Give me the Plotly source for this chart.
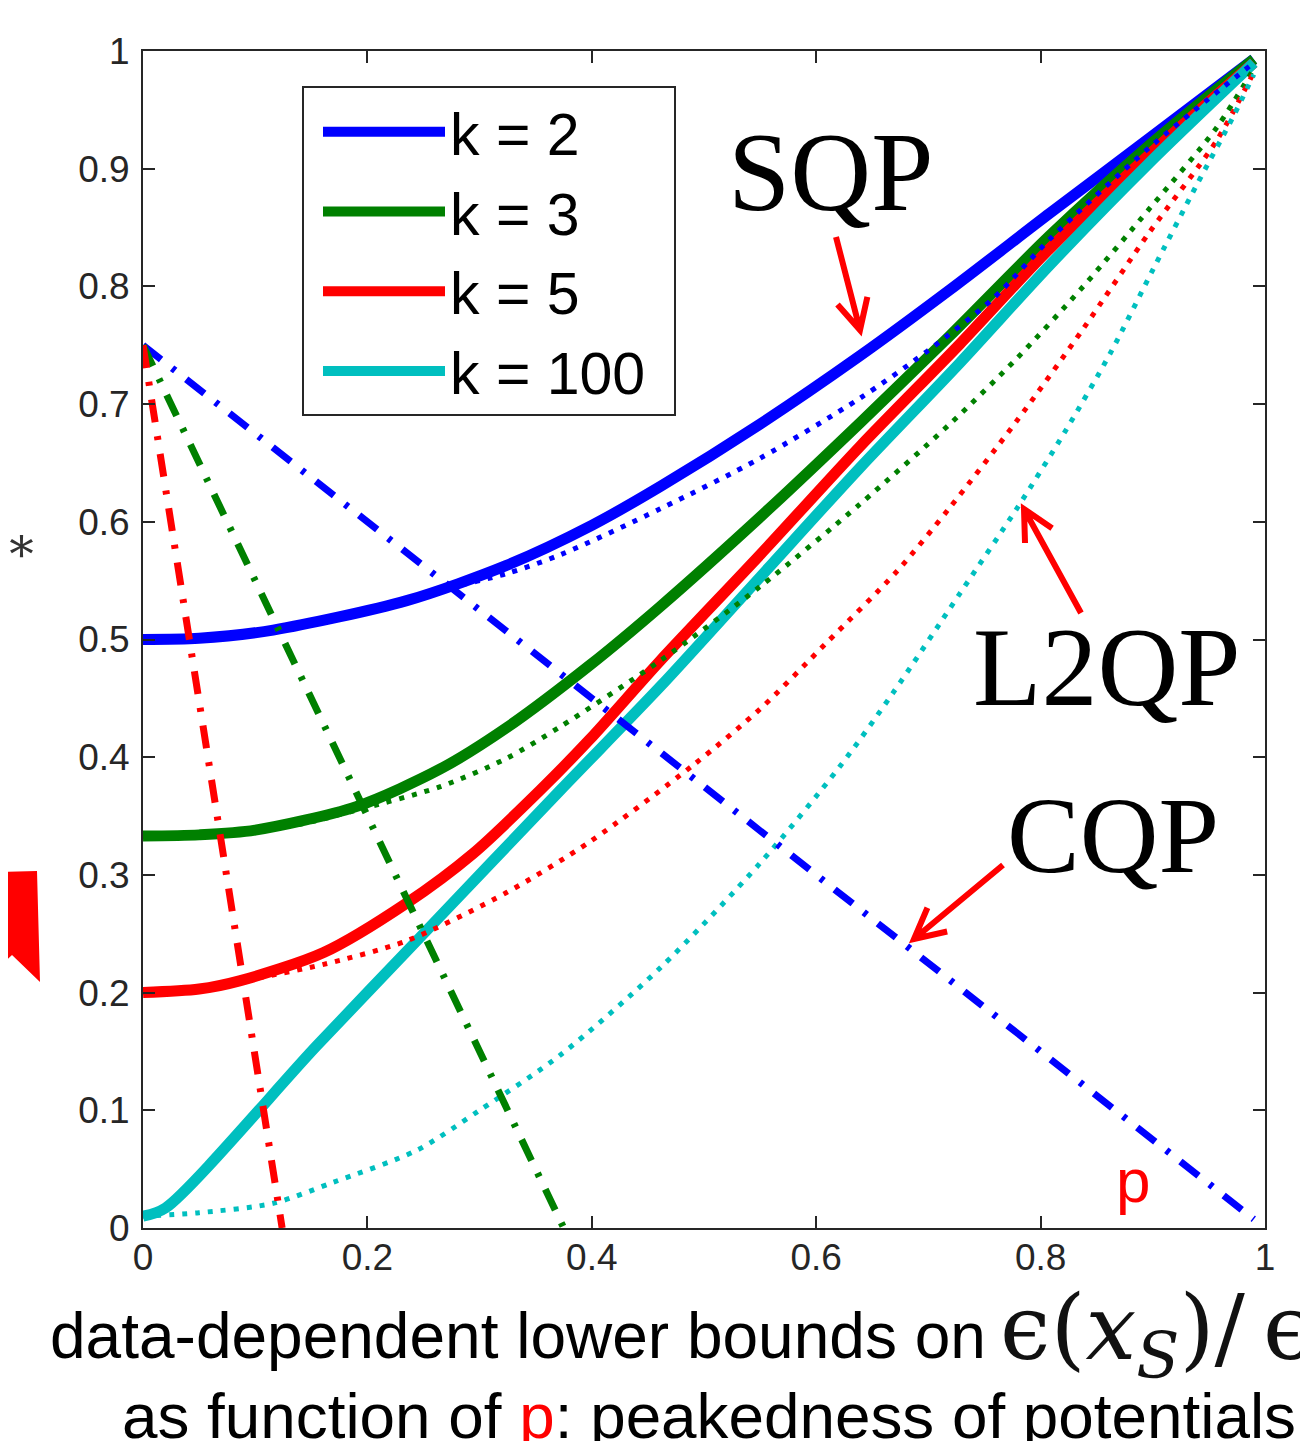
import math
import plotly.graph_objects as go

# ---------------- data ----------------
k_labels = ["k = 2", "k = 3", "k = 5", "k = 100"]
colors = ["#0000FF", "#008000", "#FF0000", "#00BFBF"]

# SQP (solid)
sqp_k2_x = [0, 0.05, 0.116, 0.235, 0.324, 0.4, 0.461, 0.55, 0.639, 0.719, 0.808, 0.897, 0.99]
sqp_k2_y = [0.5, 0.501, 0.508, 0.533, 0.563, 0.597, 0.63, 0.683, 0.741, 0.797, 0.862, 0.926, 0.993]
sqp_k3_x = [0, 0.05, 0.1, 0.19, 0.265, 0.324, 0.398, 0.461, 0.55, 0.639, 0.719, 0.808, 0.897, 0.99]
sqp_k3_y = [0.333, 0.334, 0.338, 0.358, 0.39, 0.425, 0.478, 0.528, 0.604, 0.684, 0.758, 0.843, 0.92, 0.993]
sqp_k5_x = [0, 0.05, 0.086, 0.161, 0.235, 0.294, 0.354, 0.398, 0.461, 0.55, 0.639, 0.728, 0.808, 0.897, 0.99]
sqp_k5_y = [0.2, 0.203, 0.21, 0.234, 0.276, 0.318, 0.372, 0.415, 0.482, 0.572, 0.664, 0.751, 0.832, 0.912, 0.99]
sqp_k100_x = [0, 0.02, 0.155, 0.25, 0.372, 0.461, 0.55, 0.639, 0.728, 0.808, 0.897, 0.99]
sqp_k100_y = [0.01, 0.017, 0.155, 0.25, 0.372, 0.46, 0.553, 0.646, 0.735, 0.818, 0.905, 0.99]

# L2QP (dotted)
l2qp_k2_x = [0, 0.116, 0.235, 0.27, 0.324, 0.372, 0.461, 0.55, 0.639, 0.699, 0.758, 0.808, 0.897, 0.99]
l2qp_k2_y = [0.5, 0.508, 0.533, 0.543, 0.556, 0.572, 0.611, 0.654, 0.705, 0.745, 0.79, 0.84, 0.918, 0.99]
l2qp_k3_x = [0, 0.1, 0.14, 0.19, 0.265, 0.324, 0.372, 0.461, 0.55, 0.639, 0.719, 0.779, 0.838, 0.897, 0.957, 0.99]
l2qp_k3_y = [0.333, 0.338, 0.343, 0.355, 0.375, 0.399, 0.426, 0.482, 0.545, 0.615, 0.683, 0.739, 0.8, 0.866, 0.935, 0.985]
l2qp_k5_x = [0, 0.05, 0.1, 0.161, 0.235, 0.324, 0.398, 0.49, 0.55, 0.609, 0.672, 0.719, 0.779, 0.838, 0.897, 0.957, 0.99]
l2qp_k5_y = [0.2, 0.203, 0.212, 0.224, 0.244, 0.285, 0.328, 0.393, 0.441, 0.497, 0.558, 0.612, 0.686, 0.764, 0.846, 0.924, 0.982]
l2qp_k100_x = [0, 0.05, 0.116, 0.17, 0.244, 0.3, 0.372, 0.461, 0.55, 0.621, 0.668, 0.728, 0.78, 0.822, 0.862, 0.9, 0.939, 0.971, 0.99]
l2qp_k100_y = [0.01, 0.013, 0.021, 0.039, 0.066, 0.1, 0.147, 0.221, 0.31, 0.392, 0.454, 0.539, 0.613, 0.677, 0.743, 0.814, 0.886, 0.943, 0.98]

# CQP (dash-dot)
cqp_k2_x = [0, 0.99]
cqp_k2_y = [0.75, 0.0075]
cqp_k3_x = [0, 0.375]
cqp_k3_y = [0.75, 0.0]
cqp_k5_x = [0, 0.124]
cqp_k5_y = [0.75, 0.0]

tick_vals_x = [0, 0.2, 0.4, 0.6, 0.8, 1]
tick_text_x = ["0", "0.2", "0.4", "0.6", "0.8", "1"]
tick_vals_y = [0, 0.1, 0.2, 0.3, 0.4, 0.5, 0.6, 0.7, 0.8, 0.9, 1]
tick_text_y = ["0", "0.1", "0.2", "0.3", "0.4", "0.5", "0.6", "0.7", "0.8", "0.9", "1"]

# ---------------- figure ----------------
# page has an 8px body margin; plot area spans page px x 143..1265, y 51..1228
W, H = 1300, 1433
L, R, T, B = 135, 43, 43, 213
PX0, PX1, PY0, PY1 = 143, 1265, 51, 1228


def fx(px):
    return (px - PX0) / (PX1 - PX0)


def fy(py):
    return (PY1 - py) / (PY1 - PY0)


fig = go.Figure()

sqp = [(sqp_k2_x, sqp_k2_y), (sqp_k3_x, sqp_k3_y), (sqp_k5_x, sqp_k5_y), (sqp_k100_x, sqp_k100_y)]
l2qp = [(l2qp_k2_x, l2qp_k2_y), (l2qp_k3_x, l2qp_k3_y), (l2qp_k5_x, l2qp_k5_y), (l2qp_k100_x, l2qp_k100_y)]
cqp = [(cqp_k2_x, cqp_k2_y), (cqp_k3_x, cqp_k3_y), (cqp_k5_x, cqp_k5_y)]

for (xs, ys), c, name in zip(sqp, colors, k_labels):
    fig.add_trace(go.Scatter(x=xs, y=ys, mode="lines", name=name,
                             line=dict(color=c, width=11, shape="spline", smoothing=0.8)))
for (xs, ys), c in zip(l2qp, colors):
    fig.add_trace(go.Scatter(x=xs, y=ys, mode="lines", showlegend=False,
                             line=dict(color=c, width=5, dash="5px,8px", shape="spline", smoothing=0.8)))
for (xs, ys), c in zip(cqp, colors):
    fig.add_trace(go.Scatter(x=xs, y=ys, mode="lines", showlegend=False,
                             line=dict(color=c, width=7, dash="23px,14px,4px,14px")))

axis_color = "#262626"
tick_font = dict(family="Liberation Sans, Arial", size=37, color=axis_color)
fig.update_xaxes(range=[0, 1], tickvals=tick_vals_x, ticktext=tick_text_x, ticks="inside",
                 ticklen=12, tickwidth=2, tickcolor=axis_color, showline=True, linecolor=axis_color,
                 linewidth=2, mirror="allticks", showgrid=False, zeroline=False, tickfont=tick_font,
                 ticklabelstandoff=-4)
fig.update_yaxes(range=[0, 1], tickvals=tick_vals_y, ticktext=tick_text_y, ticks="inside",
                 ticklen=12, tickwidth=2, tickcolor=axis_color, showline=True, linecolor=axis_color,
                 linewidth=2, mirror="allticks", showgrid=False, zeroline=False, tickfont=tick_font,
                 ticklabelstandoff=4)

serif = "Liberation Serif, Times New Roman, serif"
sans = "Liberation Sans, Arial, sans-serif"
math_font = "DejaVu Serif, Liberation Serif, serif"

annotations = [
    dict(text="SQP", x=fx(830), y=fy(172), font=dict(family=serif, size=112, color="black")),
    dict(text="L2QP", x=fx(1107), y=fy(667), font=dict(family=serif, size=112, color="black")),
    dict(text="CQP", x=fx(1113), y=fy(835), font=dict(family=serif, size=109, color="black")),
    dict(text="p", x=fx(1133), y=fy(1180), font=dict(family=sans, size=62, color="#FF0000")),
    dict(text="data-dependent lower bounds on", x=fx(48), y=fy(1336), xanchor="left",
         font=dict(family=sans, size=64, color="black")),
    dict(text="ϵ(<i>x</i><sub><i>S</i></sub>)/\u2009ϵ", x=fx(998), y=fy(1334), xanchor="left",
         font=dict(family=math_font, size=90, color="#111111")),
    dict(text="as function of <span style='color:#FF0000'>p</span>: peakedness of potentials",
         x=fx(120), y=fy(1416), xanchor="left", font=dict(family=sans, size=63.8, color="black")),
    dict(text="ϵ<sup>*</sup>", x=fx(36), y=fy(572), xanchor="right",
         font=dict(family=math_font, size=70, color="#333333")),
]
for a in annotations:
    a.setdefault("xanchor", "center")
    a.update(xref="paper", yref="paper", showarrow=False, yanchor="middle")


def arrow_path(tail, tip, wing=34, ang=27):
    ux, uy = tail[0] - tip[0], tail[1] - tip[1]
    n = math.hypot(ux, uy)
    ux, uy = ux / n, uy / n
    pts = []
    for s in (1, -1):
        a = math.radians(ang * s)
        wx = ux * math.cos(a) - uy * math.sin(a)
        wy = ux * math.sin(a) + uy * math.cos(a)
        pts.append((tip[0] + wing * wx, tip[1] + wing * wy))
    p = lambda q: f"{fx(q[0])},{fy(q[1])}"
    return (f"M{p(tail)} L{p(tip)} M{p(pts[0])} L{p(tip)} L{p(pts[1])}")


arrow_specs = [((836, 237), (860, 330)), ((1081, 613), (1024, 509)), ((1003, 865), (914, 939))]
arrow_shapes = [dict(type="path", xref="paper", yref="paper", path=arrow_path(t, h),
                     line=dict(color="#FF0000", width=6), fillcolor="rgba(0,0,0,0)")
                for t, h in arrow_specs]

fig.update_layout(
    width=W, height=H,
    margin=dict(l=L, r=R, t=T, b=B, pad=0),
    paper_bgcolor="white", plot_bgcolor="white",
    annotations=annotations,
    showlegend=True,
    legend=dict(x=fx(318), y=fy(87), xanchor="left", yanchor="top",
                bgcolor="rgba(0,0,0,0)", borderwidth=0,
                font=dict(family=sans, size=59, color="black"),
                itemwidth=122, tracegroupgap=0),
    shapes=[
        dict(type="rect", xref="paper", yref="paper", x0=fx(303), x1=fx(675), y0=fy(415), y1=fy(87),
             line=dict(color=axis_color, width=2), fillcolor="rgba(0,0,0,0)"),
        dict(type="path", xref="paper", yref="paper",
             path=f"M{fx(0)},{fy(872)} L{fx(37)},{fy(871)} L{fx(40)},{fy(982)} "
                  f"L{fx(12)},{fy(955)} L{fx(0)},{fy(966)} Z",
             fillcolor="#FF0000", line=dict(width=0)),
    ] + arrow_shapes,
)

fig.write_html("out.html")
